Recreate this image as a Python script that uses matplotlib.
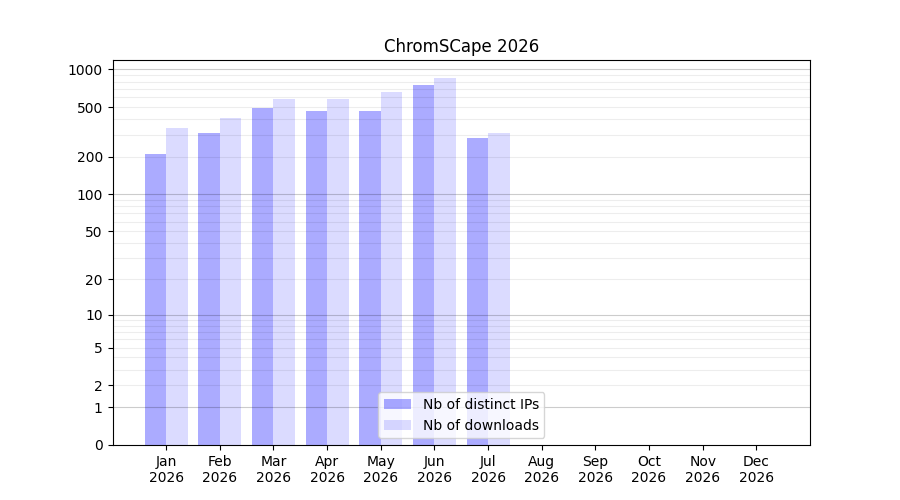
import numpy as np
import matplotlib
matplotlib.use("Agg")
import matplotlib.pyplot as plt

# monthly stats
months = ["Jan", "Feb", "Mar", "Apr", "May", "Jun", "Jul", "Aug", "Sep", "Oct", "Nov", "Dec"]
year = 2026
distinct_ips = [209, 309, 489, 463, 463, 747, 282]
downloads = [338, 407, 577, 577, 656, 849, 309]

yticks = [0, 1, 2, 5, 10, 20, 50, 100, 200, 500, 1000]


def fwd(y):
    return np.log10(np.maximum(y, 0) + 1)


def inv(y):
    return 10 ** y - 1


fig, ax = plt.subplots(figsize=(9, 5), dpi=100)

x = np.arange(len(distinct_ips))
width = 0.4
ax.bar(x - width / 2, distinct_ips, width, color="blue", alpha=0.33, label="Nb of distinct IPs")
ax.bar(x + width / 2, downloads, width, color="blue", alpha=0.14, label="Nb of downloads")

ax.set_yscale("function", functions=(fwd, inv))
ax.set_ylim(0, 1.4 * max(downloads))
ax.set_xlim(-1, 12)

# grid: decades darker, in-between lighter (translucent so bars show through)
for dec in [1, 10, 100, 1000]:
    ax.axhline(dec, color="black", alpha=0.2, lw=0.8, zorder=1.5)
    for k in range(2, 10):
        ax.axhline(dec * k, color="black", alpha=0.07, lw=0.8, zorder=1.5)

ax.set_yticks(yticks)
ax.set_yticklabels([str(t) for t in yticks])
ax.minorticks_off()
ax.set_xticks(np.arange(len(months)))
ax.set_xticklabels([f"{m}\n{year}" for m in months])

ax.set_title(f"ChromSCape {year}")
ax.legend(loc="lower center")

fig.savefig("out.png")
